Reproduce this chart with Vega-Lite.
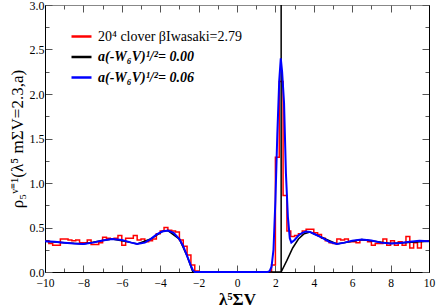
{
  "$schema": "https://vega.github.io/schema/vega-lite/v6.json",
  "autosize": {"type": "none"},
  "padding": {"left": 45, "top": 5, "right": 7, "bottom": 36},
  "width": 384,
  "height": 267,
  "background": "white",
  "config": {
    "view": {"stroke": "#888888", "strokeWidth": 1},
    "font": "Times New Roman, Liberation Serif, serif",
    "axis": {"labelFont": "Times New Roman, Liberation Serif, serif", "titleFont": "Times New Roman, Liberation Serif, serif", "labelFontSize": 12, "labelColor": "#000", "tickColor": "#555", "domainColor": "#000", "grid": false},
    "legend": {"labelFont": "Times New Roman, Liberation Serif, serif"}
  },
  "datasets": {
    "hist": [
      {"x": -10.0, "y": 0.35}, {"x": -9.8, "y": 0.32}, {"x": -9.6, "y": 0.30}, {"x": -9.4, "y": 0.30},
      {"x": -9.2, "y": 0.37}, {"x": -9.0, "y": 0.37}, {"x": -8.8, "y": 0.36}, {"x": -8.6, "y": 0.35},
      {"x": -8.4, "y": 0.36}, {"x": -8.2, "y": 0.33}, {"x": -8.0, "y": 0.33}, {"x": -7.8, "y": 0.36},
      {"x": -7.6, "y": 0.31}, {"x": -7.4, "y": 0.31}, {"x": -7.2, "y": 0.33}, {"x": -7.0, "y": 0.39},
      {"x": -6.8, "y": 0.38}, {"x": -6.6, "y": 0.37}, {"x": -6.4, "y": 0.38}, {"x": -6.2, "y": 0.41},
      {"x": -6.0, "y": 0.30}, {"x": -5.8, "y": 0.38}, {"x": -5.6, "y": 0.38}, {"x": -5.4, "y": 0.41},
      {"x": -5.2, "y": 0.36}, {"x": -5.0, "y": 0.37}, {"x": -4.8, "y": 0.34}, {"x": -4.6, "y": 0.35},
      {"x": -4.4, "y": 0.37}, {"x": -4.2, "y": 0.43}, {"x": -4.0, "y": 0.46}, {"x": -3.8, "y": 0.50},
      {"x": -3.6, "y": 0.47}, {"x": -3.4, "y": 0.46}, {"x": -3.2, "y": 0.45}, {"x": -3.0, "y": 0.36},
      {"x": -2.8, "y": 0.29}, {"x": -2.6, "y": 0.19}, {"x": -2.4, "y": 0.08}, {"x": -2.2, "y": 0.01},
      {"x": -2.0, "y": 0}, {"x": -1.8, "y": 0}, {"x": -1.6, "y": 0}, {"x": -1.4, "y": 0},
      {"x": -1.2, "y": 0}, {"x": -1.0, "y": 0}, {"x": -0.8, "y": 0}, {"x": -0.6, "y": 0},
      {"x": -0.4, "y": 0}, {"x": -0.2, "y": 0}, {"x": 0.0, "y": 0}, {"x": 0.2, "y": 0},
      {"x": 0.4, "y": 0}, {"x": 0.6, "y": 0}, {"x": 0.8, "y": 0}, {"x": 1.0, "y": 0},
      {"x": 1.2, "y": 0}, {"x": 1.4, "y": 0}, {"x": 1.6, "y": 0}, {"x": 1.8, "y": 0.08},
      {"x": 2.0, "y": 1.29}, {"x": 2.2, "y": 2.14}, {"x": 2.4, "y": 0.86}, {"x": 2.6, "y": 0.46},
      {"x": 2.8, "y": 0.40}, {"x": 3.0, "y": 0.41}, {"x": 3.2, "y": 0.43}, {"x": 3.4, "y": 0.46},
      {"x": 3.6, "y": 0.48}, {"x": 3.8, "y": 0.48}, {"x": 4.0, "y": 0.44}, {"x": 4.2, "y": 0.42},
      {"x": 4.4, "y": 0.38}, {"x": 4.6, "y": 0.35}, {"x": 4.8, "y": 0.33}, {"x": 5.0, "y": 0.32},
      {"x": 5.2, "y": 0.37}, {"x": 5.4, "y": 0.36}, {"x": 5.6, "y": 0.37}, {"x": 5.8, "y": 0.34},
      {"x": 6.0, "y": 0.34}, {"x": 6.2, "y": 0.33}, {"x": 6.4, "y": 0.36}, {"x": 6.6, "y": 0.36},
      {"x": 6.8, "y": 0.34}, {"x": 7.0, "y": 0.30}, {"x": 7.2, "y": 0.32}, {"x": 7.4, "y": 0.32},
      {"x": 7.6, "y": 0.37}, {"x": 7.8, "y": 0.30}, {"x": 8.0, "y": 0.35}, {"x": 8.2, "y": 0.30},
      {"x": 8.4, "y": 0.34}, {"x": 8.6, "y": 0.30}, {"x": 8.8, "y": 0.40}, {"x": 9.0, "y": 0.27},
      {"x": 9.2, "y": 0.33}, {"x": 9.4, "y": 0.27}, {"x": 9.6, "y": 0.35}, {"x": 9.8, "y": 0.35},
      {"x": 10.0, "y": 0.35}
    ],
    "black": [
      {"o": 1, "x": -10, "y": 0.345}, {"o": 2, "x": -9, "y": 0.33}, {"o": 3, "x": -8, "y": 0.315},
      {"o": 4, "x": -7, "y": 0.355}, {"o": 5, "x": -6.5, "y": 0.37}, {"o": 6, "x": -5.5, "y": 0.33},
      {"o": 7, "x": -5.2, "y": 0.315}, {"o": 8, "x": -4.5, "y": 0.37}, {"o": 9, "x": -3.9, "y": 0.455},
      {"o": 10, "x": -3.6, "y": 0.465}, {"o": 11, "x": -3.0, "y": 0.37}, {"o": 12, "x": -2.6, "y": 0.18},
      {"o": 13, "x": -2.3, "y": 0}, {"o": 14, "x": 2.3, "y": 0}, {"o": 15, "x": 2.3, "y": 3},
      {"o": 16, "x": 2.3, "y": 0}, {"o": 17, "x": 2.6, "y": 0.13}, {"o": 18, "x": 2.9, "y": 0.27},
      {"o": 19, "x": 3.2, "y": 0.37}, {"o": 20, "x": 3.5, "y": 0.43}, {"o": 21, "x": 3.8, "y": 0.45},
      {"o": 22, "x": 4.4, "y": 0.39}, {"o": 23, "x": 5.2, "y": 0.315}, {"o": 24, "x": 6.5, "y": 0.365},
      {"o": 25, "x": 8.0, "y": 0.32}, {"o": 26, "x": 10, "y": 0.345}
    ],
    "blue": [
      {"x": -10, "y": 0.345}, {"x": -9.5, "y": 0.34}, {"x": -9, "y": 0.33}, {"x": -8.5, "y": 0.32},
      {"x": -8, "y": 0.315}, {"x": -7.5, "y": 0.33}, {"x": -7, "y": 0.355}, {"x": -6.5, "y": 0.37},
      {"x": -6, "y": 0.36}, {"x": -5.5, "y": 0.33}, {"x": -5.2, "y": 0.315}, {"x": -4.8, "y": 0.33},
      {"x": -4.5, "y": 0.37}, {"x": -4.2, "y": 0.42}, {"x": -3.9, "y": 0.455}, {"x": -3.6, "y": 0.465},
      {"x": -3.3, "y": 0.44}, {"x": -3.0, "y": 0.37}, {"x": -2.8, "y": 0.29}, {"x": -2.6, "y": 0.18},
      {"x": -2.4, "y": 0.07}, {"x": -2.3, "y": 0.02}, {"x": -2.2, "y": 0}, {"x": 1.6, "y": 0},
      {"x": 1.7, "y": 0.01}, {"x": 1.8, "y": 0.06}, {"x": 1.9, "y": 0.25}, {"x": 2.0, "y": 0.8},
      {"x": 2.1, "y": 1.55}, {"x": 2.2, "y": 2.15}, {"x": 2.28, "y": 2.4}, {"x": 2.35, "y": 2.25},
      {"x": 2.45, "y": 1.9}, {"x": 2.55, "y": 1.1}, {"x": 2.65, "y": 0.62}, {"x": 2.75, "y": 0.38},
      {"x": 2.83, "y": 0.33}, {"x": 3.0, "y": 0.36}, {"x": 3.2, "y": 0.41}, {"x": 3.4, "y": 0.44},
      {"x": 3.6, "y": 0.455}, {"x": 3.8, "y": 0.45}, {"x": 4.0, "y": 0.43}, {"x": 4.4, "y": 0.39},
      {"x": 4.8, "y": 0.34}, {"x": 5.2, "y": 0.315}, {"x": 5.6, "y": 0.33}, {"x": 6.0, "y": 0.35},
      {"x": 6.5, "y": 0.365}, {"x": 7.0, "y": 0.355}, {"x": 7.5, "y": 0.33}, {"x": 8.0, "y": 0.32},
      {"x": 8.5, "y": 0.325}, {"x": 9.0, "y": 0.34}, {"x": 9.5, "y": 0.35}, {"x": 10, "y": 0.345}
    ]
  },
  "layer": [
    {
      "data": {"name": "hist"},
      "mark": {"type": "line", "interpolate": "step-after", "strokeWidth": 1.5},
      "encoding": {
        "x": {"field": "x", "type": "quantitative",
          "scale": {"domain": [-10, 10], "nice": false, "zero": false},
          "axis": {"orient": "bottom", "values": [-10,-9,-8,-7,-6,-5,-4,-3,-2,-1,0,1,2,3,4,5,6,7,8,9,10],
            "labelExpr": "datum.value % 2 === 0 ? datum.label : ''",
            "labelFont": "Times New Roman, Liberation Serif, serif", "titleFont": "Times New Roman, Liberation Serif, serif",
            "tickSize": {"condition": {"test": "datum.value % 2 === 0", "value": -7}, "value": -4},
            "labelFontSize": 11.5, "labelPadding": 12, "labelFlush": false,
            "title": "λ⁵ΣV", "titleFontSize": 17, "titleFontWeight": "bold", "titlePadding": 3}},
        "y": {"field": "y", "type": "quantitative",
          "scale": {"domain": [0, 3], "nice": false},
          "axis": {"orient": "left", "values": [0,0.25,0.5,0.75,1,1.25,1.5,1.75,2,2.25,2.5,2.75,3],
            "labelExpr": "(datum.value * 2) % 1 === 0 ? datum.label : ''",
            "labelFont": "Times New Roman, Liberation Serif, serif", "titleFont": "Times New Roman, Liberation Serif, serif",
            "tickSize": {"condition": {"test": "(datum.value * 2) % 1 === 0", "value": -7}, "value": -4},
            "labelPadding": 8, "labelFlush": false,
            "title": "ρ₅ᵛ⁼¹(λ⁵ mΣV=2.3,a)", "titleFontSize": 17, "titleFontWeight": "normal", "titlePadding": 3}},
        "color": {"datum": "20⁴ clover βIwasaki=2.79", "type": "nominal",
          "scale": {"domain": ["20⁴ clover βIwasaki=2.79", "a(-W₆V)¹/²= 0.00", "a(-W₆V)¹/²= 0.06"],
            "range": ["#ff0000", "#000000", "#0000ff"]},
          "legend": {"orient": "none", "legendX": 25, "legendY": 20, "title": null,
            "symbolType": "stroke", "symbolSize": 400, "symbolStrokeWidth": 2.5,
            "labelFont": "Times New Roman, Liberation Serif, serif", "labelFontSize": 14, "labelOffset": 5,
            "rowPadding": 1.5, "padding": 0,
            "encode": {"labels": {"update": {
              "fontStyle": {"signal": "indexof(datum.label, 'W') >= 0 ? 'italic' : 'normal'"},
              "fontWeight": {"signal": "indexof(datum.label, 'W') >= 0 ? 'bold' : 'normal'"}}}}}}
      }
    },
    {
      "data": {"name": "black"},
      "mark": {"type": "line", "strokeWidth": 1.5},
      "encoding": {
        "x": {"field": "x", "type": "quantitative", "axis": null},
        "y": {"field": "y", "type": "quantitative", "axis": null},
        "order": {"field": "o", "type": "quantitative"},
        "color": {"datum": "a(-W₆V)¹/²= 0.00", "type": "nominal"}
      }
    },
    {
      "data": {"name": "blue"},
      "mark": {"type": "line", "strokeWidth": 2},
      "encoding": {
        "x": {"field": "x", "type": "quantitative",
          "axis": {"orient": "top", "values": [-10,-9,-8,-7,-6,-5,-4,-3,-2,-1,0,1,2,3,4,5,6,7,8,9,10],
            "labels": false, "title": null, "domain": false,
            "tickSize": {"condition": {"test": "datum.value % 2 === 0", "value": -7}, "value": -4}}},
        "y": {"field": "y", "type": "quantitative",
          "axis": {"orient": "right", "values": [0,0.25,0.5,0.75,1,1.25,1.5,1.75,2,2.25,2.5,2.75,3],
            "labels": false, "title": null,
            "tickSize": {"condition": {"test": "(datum.value * 2) % 1 === 0", "value": -7}, "value": -4}}},
        "color": {"datum": "a(-W₆V)¹/²= 0.06", "type": "nominal"}
      }
    }
  ],
  "resolve": {"axis": {"x": "independent", "y": "independent"}}
}
